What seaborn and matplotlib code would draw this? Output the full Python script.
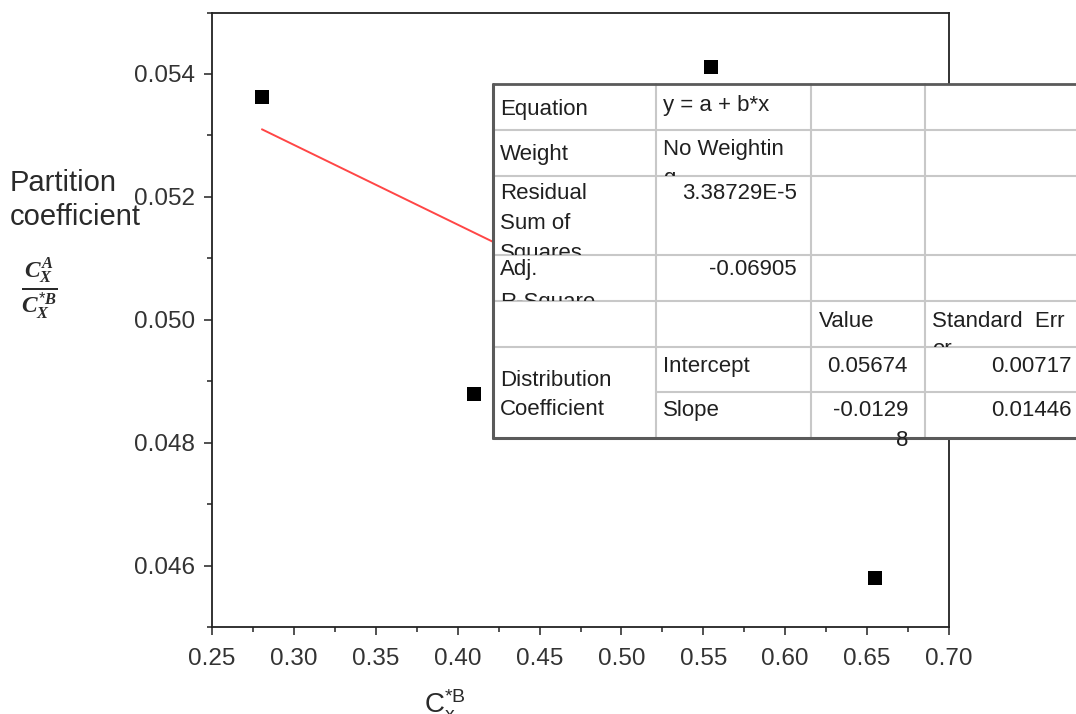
import matplotlib
matplotlib.use("Agg")
import matplotlib.pyplot as plt
from matplotlib.patches import Rectangle
from matplotlib.ticker import MultipleLocator, FixedLocator, FixedFormatter
import seaborn as sns
import pandas as pd

# ---------------- data ----------------
cx_b = [0.2805, 0.4100, 0.5547, 0.6550]
partition = [0.05363, 0.04879, 0.05411, 0.04579]
fit_intercept = 0.05674
fit_slope = -0.01298
x_ticks = [0.25, 0.30, 0.35, 0.40, 0.45, 0.50, 0.55, 0.60, 0.65, 0.70]
x_tick_labels = ["0.25", "0.30", "0.35", "0.40", "0.45", "0.50", "0.55", "0.60", "0.65", "0.70"]
y_ticks = [0.046, 0.048, 0.050, 0.052, 0.054]
y_tick_labels = ["0.046", "0.048", "0.050", "0.052", "0.054"]

eq_text = ["y = a + b*x"]
weight_text = ["No Weightin", "g"]
rss_text = ["3.38729E-5"]
adj_r2_text = ["-0.06905"]
intercept_value = ["0.05674"]
intercept_se = ["0.00717"]
slope_value = ["-0.0129", "8"]
slope_se = ["0.01446"]

# ---------------- style ----------------
sns.set_theme(style="ticks")
plt.rcParams["font.family"] = ["Liberation Sans", "DejaVu Sans"]
plt.rcParams["mathtext.fontset"] = "custom"
plt.rcParams["mathtext.rm"] = "Liberation Sans"
plt.rcParams["mathtext.it"] = "Liberation Serif:italic:bold"
plt.rcParams["mathtext.bf"] = "Liberation Serif:bold"

W, H = 1076, 714
fig = plt.figure(figsize=(W / 100, H / 100), dpi=100)
fig.patch.set_facecolor("white")

ax_l, ax_r, ax_t, ax_b = 212, 949, 12.5, 627
ax = fig.add_axes([ax_l / W, 1 - ax_b / H, (ax_r - ax_l) / W, (ax_b - ax_t) / H])
ax.set_facecolor("white")

df = pd.DataFrame({"cx": cx_b, "k": partition})
xfit = [min(cx_b), max(cx_b)]
fit_df = pd.DataFrame({"cx": xfit, "k": [fit_intercept + fit_slope * v for v in xfit]})

sns.lineplot(data=fit_df, x="cx", y="k", color="#ff4646", linewidth=1.4, ax=ax, zorder=2)
sns.scatterplot(data=df, x="cx", y="k", marker="s", s=92, color="black",
                edgecolor="black", linewidth=0, ax=ax, zorder=3)

ax.set_xlim(0.25, 0.70)
ax.set_ylim(0.045, 0.055)
ax.xaxis.set_major_locator(FixedLocator(x_ticks))
ax.xaxis.set_major_formatter(FixedFormatter(x_tick_labels))
ax.yaxis.set_major_locator(FixedLocator(y_ticks))
ax.yaxis.set_major_formatter(FixedFormatter(y_tick_labels))
ax.xaxis.set_minor_locator(MultipleLocator(0.025))
ax.yaxis.set_minor_locator(MultipleLocator(0.001))
ax.set_xlabel("")
ax.set_ylabel("")

for sp in ax.spines.values():
    sp.set_visible(True)
    sp.set_color("#222222")
    sp.set_linewidth(1.3)

ax.tick_params(axis="both", which="major", direction="out", length=6, width=1.2,
               color="#333333", labelsize=17.5, labelcolor="#333333",
               top=False, right=False)
ax.tick_params(axis="x", which="major", pad=9)
ax.tick_params(axis="y", which="major", pad=6)
ax.tick_params(axis="both", which="minor", direction="out", length=3.5, width=1.2,
               color="#333333", top=False, right=False)

# axis titles
fig.text(10 / W, 1 - 200 / H, "Partition\ncoefficient", ha="left", va="center",
         fontsize=21, color="#2a2a2a", linespacing=1.3)
fig.text(39 / W, 1 - 289 / H, r"$\frac{C_X^A}{C_X^{*B}}$", ha="center", va="center",
         fontsize=24, color="#2a2a2a")
fig.text(445 / W, 1 - 688 / H, r"$\mathrm{C_x^{*B}}$", ha="center", va="top",
         fontsize=20, color="#2a2a2a")

# ---------------- statistics table overlay (pixel coords, y measured from top) ----------------
tab = fig.add_axes([0, 0, 1, 1])
tab.set_xlim(0, W)
tab.set_ylim(0, H)
tab.axis("off")
tab.set_zorder(5)


def Y(v):
    return H - v


cols = [493, 656, 811, 925, 1110]
rows = [84, 130, 176, 255, 301, 347, 392, 438]

tab.add_patch(Rectangle((cols[0], Y(rows[-1])), cols[-1] - cols[0], rows[-1] - rows[0],
                        facecolor="white", edgecolor="none", zorder=1))
grid_c = "#c8c8c8"
for yv in rows[1:-1]:
    x0 = cols[1] if yv == rows[6] else cols[0]
    tab.plot([x0, cols[-1]], [Y(yv), Y(yv)], color=grid_c, lw=1.5, zorder=2)
for xv in cols[1:-1]:
    tab.plot([xv, xv], [Y(rows[0]), Y(rows[-1])], color=grid_c, lw=1.5, zorder=2)
border_c = "#5a5a5a"
tab.plot([cols[0], cols[-1]], [Y(rows[0]), Y(rows[0])], color=border_c, lw=2.0, zorder=3)
tab.plot([cols[0], cols[-1]], [Y(rows[-1]), Y(rows[-1])], color=border_c, lw=2.2, zorder=3)
tab.plot([cols[0], cols[0]], [Y(rows[0]), Y(rows[-1])], color=border_c, lw=2.2, zorder=3)

TFS = 16
TC = "#202020"
STEP = 30


def cell_text(lines, x, y, c0, c1, r0, r1, ha="left", clip=True, step=STEP):
    for k, s in enumerate(lines):
        t = tab.text(x, Y(y + k * step), s, ha=ha, va="baseline", fontsize=TFS,
                     color=TC, zorder=6, clip_on=clip)
        if clip:
            t.set_clip_path(Rectangle((cols[c0], Y(rows[r1])), cols[c1] - cols[c0],
                                      rows[r1] - rows[r0], transform=tab.transData))


# column 0 labels
cell_text(["Equation"], 500, 115, 0, 1, 0, 1)
cell_text(["Weight"], 500, 160, 0, 1, 1, 2)
cell_text(["Residual", "Sum of", "Squares"], 500, 199, 0, 1, 2, 3, step=30)
cell_text(["Adj.", "R-Square"], 500, 275, 0, 1, 3, 4, step=33)
cell_text(["Distribution", "Coefficient"], 500, 386, 0, 1, 5, 7, step=29)

# column 1
cell_text(eq_text, 663, 111, 1, 2, 0, 1)
cell_text(weight_text, 663, 155, 1, 2, 1, 2, step=29)
cell_text(rss_text, 797, 199, 1, 2, 2, 3, ha="right")
cell_text(adj_r2_text, 797, 275, 1, 2, 3, 4, ha="right")
cell_text(["Intercept"], 663, 372, 1, 2, 5, 6)
cell_text(["Slope"], 663, 416, 1, 2, 6, 7)

# column 2
cell_text(["Value"], 819, 327, 2, 3, 4, 5)
cell_text(intercept_value, 908, 372, 2, 3, 5, 6, ha="right")
cell_text(slope_value, 908, 416, 2, 3, 6, 7, ha="right", clip=False, step=30)

# column 3
cell_text(["Standard  Err", "or"], 932, 327, 3, 4, 4, 5, step=28)
cell_text(intercept_se, 1072, 372, 3, 4, 5, 6, ha="right")
cell_text(slope_se, 1072, 416, 3, 4, 6, 7, ha="right")

fig.savefig("out.png", dpi=100, facecolor="white")
